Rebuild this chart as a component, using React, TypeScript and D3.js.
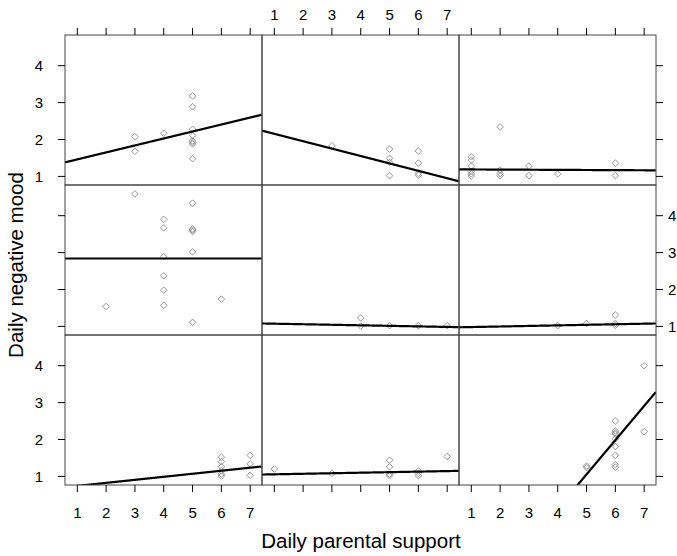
import * as d3 from "d3";

// tick values
const xTicks = [1, 2, 3, 4, 5, 6, 7];
const yTicks = [1, 2, 3, 4];

// panel data, read row by row (top row first), left to right
const p1x = [3, 3, 4, 5, 5, 5, 5, 5, 5, 5, 5];
const p1y = [2.08, 1.68, 2.17, 3.18, 2.89, 2.28, 2.11, 1.96, 1.92, 1.88, 1.48];
const p2x = [3, 5, 5, 5, 5, 6, 6, 6, 6];
const p2y = [1.83, 1.74, 1.49, 1.38, 1.02, 1.69, 1.36, 1.08, 1.03];
const p3x = [1, 1, 1, 1, 1, 1, 2, 2, 2, 2, 3, 3, 4, 6, 6];
const p3y = [1.53, 1.44, 1.28, 1.13, 1.07, 1.01, 2.34, 1.17, 1.08, 1.02, 1.28, 1.02, 1.07, 1.36, 1.02];
const p4x = [3, 5, 4, 4, 5, 5, 5, 5, 4, 4, 4, 4, 2, 6, 5];
const p4y = [4.59, 4.34, 3.9, 3.67, 3.64, 3.61, 3.57, 3.02, 2.89, 2.37, 1.98, 1.57, 1.54, 1.74, 1.11];
const p5x = [4, 4, 5, 6, 7];
const p5y = [1.23, 1.01, 1.02, 1.02, 1.02];
const p6x = [4, 5, 6, 6, 6];
const p6y = [1.02, 1.08, 1.31, 1.08, 1.03];
const p7x = [6, 6, 6, 6, 6, 6, 7, 7, 7];
const p7y = [1.52, 1.4, 1.26, 1.15, 1.06, 1.01, 1.57, 1.34, 1.03];
const p8x = [1, 3, 5, 5, 5, 5, 6, 6, 6, 7];
const p8y = [1.2, 1.08, 1.44, 1.26, 1.06, 1.02, 1.15, 1.08, 1.02, 1.54];
const p9x = [5, 5, 6, 6, 6, 6, 6, 6, 6, 6, 6, 7, 7];
const p9y = [1.28, 1.24, 2.5, 2.23, 2.18, 2.14, 2.02, 1.81, 1.57, 1.32, 1.25, 4.0, 2.21];

// fitted lines per panel
const intercepts = [1.272, 2.355, 1.192, 2.84, 1.088, 0.967, 0.66, 1.042, -3.585];
const slopes = [0.189, -0.2007, -0.0037, 0, -0.0146, 0.0152, 0.0823, 0.0146, 0.928];

const panelX = [p1x, p2x, p3x, p4x, p5x, p6x, p7x, p8x, p9x];
const panelY = [p1y, p2y, p3y, p4y, p5y, p6y, p7y, p8y, p9y];

export default function App() {
  const width = 677;
  const height = 556;
  const left = 65;
  const top = 35;
  const pw = 197;
  const ph = 150;
  const xDomain: [number, number] = [0.573, 7.41];
  const yDomain: [number, number] = [0.767, 4.832];
  const font = "Liberation Sans, Arial, sans-serif";

  const x = d3.scaleLinear().domain(xDomain).range([0, pw]);
  const y = d3.scaleLinear().domain(yDomain).range([ph, 0]);
  const diamond = (cx: number, cy: number) => {
    const r = 3.3;
    return `M${cx},${cy - r}L${cx + r},${cy}L${cx},${cy + r}L${cx - r},${cy}Z`;
  };

  const panels = d3.range(9).map((i) => {
    const row = Math.floor(i / 3);
    const col = i % 3;
    const a = intercepts[i];
    const b = slopes[i];
    const line = d3
      .line<number>()
      .x((v) => x(v))
      .y((v) => y(a + b * v));
    const xs = d3.range(xDomain[0], xDomain[1] + 0.001, 0.01);
    return (
      <g key={i} transform={`translate(${left + col * pw},${top + row * ph})`}>
        <defs>
          <clipPath id={`clip${i}`}>
            <rect width={pw} height={ph} />
          </clipPath>
        </defs>
        <g clipPath={`url(#clip${i})`}>
          {panelX[i].map((xv, j) => (
            <path key={j} d={diamond(x(xv), y(panelY[i][j]))} fill="none" stroke="#8a8a8a" strokeWidth={0.9} />
          ))}
          <path d={line(xs) ?? ""} fill="none" stroke="#000" strokeWidth={2.2} />
        </g>
        <rect width={pw} height={ph} fill="none" stroke="#444" strokeWidth={1} />
      </g>
    );
  });

  const tickLen = 7;
  const axes: JSX.Element[] = [];
  // top ticks (all cols), labels on middle col
  for (let col = 0; col < 3; col++) {
    const ox = left + col * pw;
    xTicks.forEach((t) => {
      axes.push(<line key={`tt${col}${t}`} x1={ox + x(t)} x2={ox + x(t)} y1={top} y2={top - tickLen} stroke="#000" />);
      axes.push(<line key={`bt${col}${t}`} x1={ox + x(t)} x2={ox + x(t)} y1={top + 3 * ph} y2={top + 3 * ph + tickLen} stroke="#000" />);
      if (col === 1)
        axes.push(<text key={`tl${col}${t}`} x={ox + x(t)} y={20} textAnchor="middle" fontSize={15} fontFamily={font}>{t}</text>);
      else
        axes.push(<text key={`bl${col}${t}`} x={ox + x(t)} y={518} textAnchor="middle" fontSize={15} fontFamily={font}>{t}</text>);
    });
  }
  for (let row = 0; row < 3; row++) {
    const oy = top + row * ph;
    yTicks.forEach((t) => {
      axes.push(<line key={`lt${row}${t}`} x1={left} x2={left - tickLen} y1={oy + y(t)} y2={oy + y(t)} stroke="#000" />);
      axes.push(<line key={`rt${row}${t}`} x1={left + 3 * pw} x2={left + 3 * pw + tickLen} y1={oy + y(t)} y2={oy + y(t)} stroke="#000" />);
      if (row === 1)
        axes.push(<text key={`rl${row}${t}`} x={668} y={oy + y(t) + 5.3} textAnchor="start" fontSize={15} fontFamily={font}>{t}</text>);
      else
        axes.push(<text key={`ll${row}${t}`} x={43} y={oy + y(t) + 5.3} textAnchor="end" fontSize={15} fontFamily={font}>{t}</text>);
    });
  }

  return (
    <svg width={width} height={height} style={{ position: "absolute", left: 0, top: 0, background: "#fff" }}>
      {panels}
      {axes}
      <text x={361} y={548} textAnchor="middle" fontSize={20.5} fontFamily={font}>Daily parental support</text>
      <text transform={`translate(23,265) rotate(-90)`} textAnchor="middle" fontSize={20.5} fontFamily={font}>Daily negative mood</text>
    </svg>
  );
}
